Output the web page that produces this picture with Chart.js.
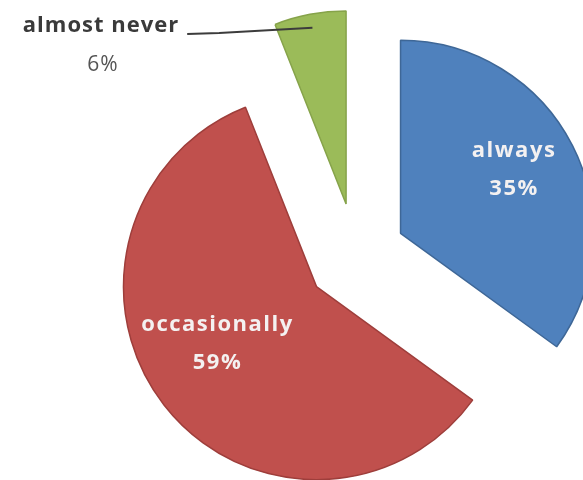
<!DOCTYPE html>
<html>
<head>
<meta charset="utf-8">
<script src="https://cdn.jsdelivr.net/npm/chart.js@4.4.1/dist/chart.umd.min.js"></script>
<style>
  html, body { margin: 0; padding: 0; background: #ffffff; }
  #wrap { position: relative; width: 583px; height: 480px; overflow: hidden; }
  #wrap canvas { position: absolute; left: 0; top: 0; }
</style>
</head>
<body>
<div id="wrap">
  <canvas id="slice0" width="583" height="480"></canvas>
  <canvas id="slice1" width="583" height="480"></canvas>
  <canvas id="slice2" width="583" height="480"></canvas>
</div>
<script>
const labels = ["always", "occasionally", "almost never"];
const values = [35, 59, 6];
const pctLabels = ["35%", "59%", "6%"];

const colors = ["#4f81bd", "#c0504d", "#9bbb59"];
const edgeColors = ["#3e6797", "#9e3e3b", "#86a34a"];
// how far each slice is pulled out of the pie, px
const explode = [50, 50, 53];

const W = 583, H = 480;
const pieCenter = { x: 356, y: 256 };
const R = 193;

const total = values.reduce((a, b) => a + b, 0);

// where each slice's apex ends up after exploding it
function apexOf(i) {
    let before = 0;
    for (let j = 0; j < i; j++) before += values[j];
    const mid = -Math.PI / 2 + ((before + values[i] / 2) / total) * Math.PI * 2;
    return {
        x: pieCenter.x + Math.cos(mid) * explode[i],
        y: pieCenter.y + Math.sin(mid) * explode[i],
    };
}

// label placement: fraction of radius along the slice middle, plus a nudge
const labelPos = [
    { k: 0.66, dx: 0, dy: -6 },
    { k: 0.59, dx: -9, dy: -13 },
];

const sliceLabels = {
    id: "sliceLabels",
    afterDatasetsDraw(chart, args, opts) {
        const i = opts.index;
        const arc = chart.getDatasetMeta(0).data[i];
        const { x, y, startAngle, endAngle, outerRadius } = arc;
        const mid = (startAngle + endAngle) / 2;
        const ctx = chart.ctx;
        ctx.save();
        ctx.textAlign = "center";
        ctx.textBaseline = "middle";
        if (i < 2) {
            const p = labelPos[i];
            const cx = x + Math.cos(mid) * outerRadius * p.k + p.dx;
            const cy = y + Math.sin(mid) * outerRadius * p.k + p.dy;
            ctx.fillStyle = "#f4f1f1";
            ctx.font = "bold 22px 'Open Sans'";
            ctx.letterSpacing = "1.5px";
            ctx.fillText(labels[i], cx, cy - 19);
            ctx.fillText(pctLabels[i], cx, cy + 19);
        } else {
            // outside label with leader line
            ctx.fillStyle = "#3a3a3a";
            ctx.font = "bold 22px 'Open Sans'";
            ctx.letterSpacing = "1px";
            const lx = 101, ly = 26;
            ctx.fillText(labels[i], lx, ly);
            ctx.fillStyle = "#555555";
            ctx.font = "21px 'Open Sans'";
            ctx.fillText(pctLabels[i], lx + 2, ly + 39);
            ctx.font = "bold 22px 'Open Sans'";
            const tw = ctx.measureText(labels[i]).width;
            const sx = lx + tw / 2 + 8;
            const tipX = x + Math.cos(mid) * outerRadius * 0.93;
            const tipY = y + Math.sin(mid) * outerRadius * 0.93;
            ctx.strokeStyle = "#3c3c3c";
            ctx.lineWidth = 2;
            ctx.beginPath();
            ctx.moveTo(sx, ly + 8);
            ctx.lineTo(sx + 32, ly + 7);
            ctx.lineTo(tipX, tipY);
            ctx.stroke();
        }
        ctx.restore();
    },
};

// one chart per slice so every slice keeps the same radius when pulled out
labels.forEach((_, i) => {
    const a = apexOf(i);
    const h = Math.min(a.x, W - a.x, a.y, H - a.y);
    new Chart(document.getElementById("slice" + i), {
        type: "pie",
        data: {
            labels: labels,
            datasets: [
                {
                    data: values,
                    backgroundColor: colors.map((c, j) => (j === i ? c : "rgba(0,0,0,0)")),
                    borderColor: edgeColors.map((c, j) => (j === i ? c : "rgba(0,0,0,0)")),
                    borderWidth: labels.map((l, j) => (j === i ? 1.5 : 0)),
                    radius: R,
                    clip: false,
                },
            ],
        },
        options: {
            responsive: false,
            animation: false,
            events: [],
            layout: {
                padding: {
                    left: a.x - h,
                    right: W - a.x - h,
                    top: a.y - h,
                    bottom: H - a.y - h,
                },
            },
            plugins: {
                legend: { display: false },
                tooltip: { enabled: false },
                sliceLabels: { index: i },
            },
        },
        plugins: [sliceLabels],
    });
});
</script>
</body>
</html>
